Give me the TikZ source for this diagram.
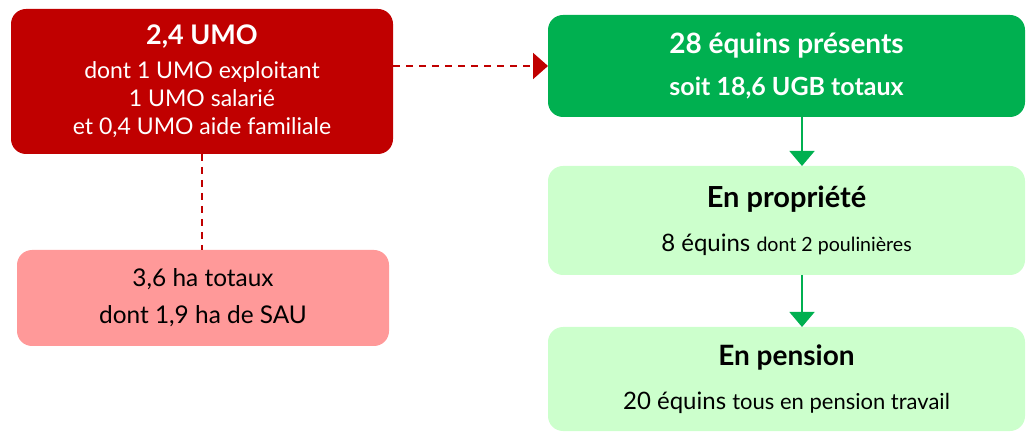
\documentclass[tikz,border=0pt]{standalone}
\usepackage{fontspec}
\setmainfont{Lato}
\usetikzlibrary{arrows.meta}

\definecolor{rouge}{HTML}{C00000}
\definecolor{rose}{HTML}{FF9999}
\definecolor{vert}{HTML}{00B050}
\definecolor{vertclair}{HTML}{CCFFCC}

\begin{document}
\begin{tikzpicture}[x=0.5pt,y=-0.5pt]

      \useasboundingbox (0,0) rectangle (1032,432);

      \begin{scope}[every node/.style={rounded corners=7.5pt,inner sep=0pt,outer sep=0pt,align=center}]
        \node[fill=rouge,text=white,minimum width=191pt,minimum height=72.5pt,
              font=\fontsize{11.5}{14}\selectfont] (umo) at (202,81.5)
          {{\fontsize{13.5}{15}\selectfont\bfseries 2,4 UMO}\\[3pt]
           dont 1 UMO exploitant\\ 1 UMO salarié\\ et 0,4 UMO aide familiale};
        \node[fill=rose,minimum width=186pt,minimum height=48pt,
              font=\fontsize{12.2}{18.5}\selectfont] (surf) at (203,298)
          {3,6 ha totaux\\ dont 1,9 ha de SAU};
        \node[fill=vert,text=white,minimum width=238.5pt,minimum height=51pt,
              font=\bfseries\fontsize{12.5}{14}\selectfont] (equins) at (786.5,66)
          {{\fontsize{14}{16}\selectfont 28 équins présents}\\[7pt]
           soit 18,6 UGB totaux};
        \node[fill=vertclair,minimum width=238.5pt,minimum height=54.5pt,
              font=\fontsize{12}{14}\selectfont] (propr) at (786.5,220.5)
          {{\fontsize{14.5}{16}\selectfont\bfseries En propriété}\\[8pt]
           8 équins {\fontsize{9.8}{12}\selectfont dont 2 poulinières}};
        \node[fill=vertclair,minimum width=238.5pt,minimum height=52pt,
              font=\fontsize{12}{14}\selectfont] (pension) at (786.5,379)
          {{\fontsize{14}{16}\selectfont\bfseries En pension}\\[8pt]
           20 équins {\fontsize{11}{13}\selectfont tous en pension travail}};
      \end{scope}

      \begin{scope}[every edge/.style={draw,rouge,line width=1pt,dash pattern=on 3.5pt off 3pt}]
        \path (umo.south) edge (umo.south |- surf.north);
        \path (umo.east |- equins.west) edge[-{Triangle[length=7.5pt,width=13pt]}] (equins.west);
      \end{scope}

      \begin{scope}[every edge/.style={draw,vert,line width=0.75pt,-{Triangle[length=7.5pt,width=12.5pt]}}]
        \path ([xshift=7.75pt]equins.south) edge ([xshift=7.75pt]propr.north);
        \path ([xshift=7.75pt]propr.south) edge ([xshift=7.75pt]pension.north);
      \end{scope}

    \end{tikzpicture}
\end{document}
